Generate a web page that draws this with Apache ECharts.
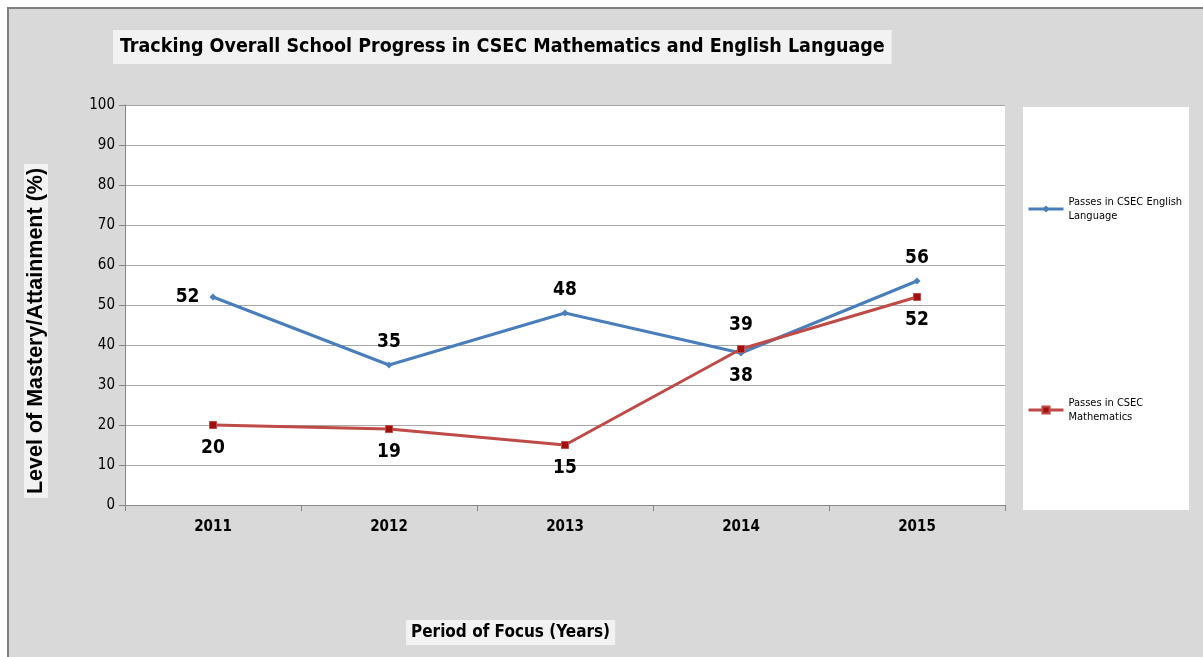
<!DOCTYPE html>
<html><head><meta charset="utf-8">
<script src="https://cdn.jsdelivr.net/npm/echarts@6/dist/echarts.min.js"></script>
<style>html,body{margin:0;padding:0;background:#fff}#c{width:1203px;height:657px}</style>
</head><body><div id="c"></div>
<script>
const years = ['2011','2012','2013','2014','2015'];
const english = [52, 35, 48, 38, 56];
const maths = [20, 19, 15, 39, 52];
const englishLabelPos = ['left','top','top','bottom','top'];
const mathsLabelPos = ['bottom','bottom','bottom','top','bottom'];
const yTicks = {min: 0, max: 100, interval: 10};
const NARROW = '"Liberation Sans Narrow","Arial Narrow","DejaVu Sans Condensed",sans-serif';
const WIDE = '"Liberation Sans",Arial,sans-serif';

const chart = echarts.init(document.getElementById('c'));
function mk(vals, pos){ return vals.map((v,i)=>({value:v, label:{position:pos[i]}})); }
chart.setOption({
  animation:false,
  backgroundColor:'#fff',
  graphic:[
    {type:'rect', z:-10, shape:{x:8,y:8,width:1200,height:660}, style:{fill:'#d9d9d9', stroke:'#808080', lineWidth:2}},
    {type:'rect', z:-5, shape:{x:1023,y:107,width:166,height:403}, style:{fill:'#fff'}},
    {type:'text', x:36, y:331, rotation:Math.PI/2, z:10,
     style:{text:'Level of Mastery/Attainment (%)', fill:'#000', font:'bold 21.5px ' + WIDE,
            align:'center', verticalAlign:'middle', backgroundColor:'#f2f2f2', padding:[1,4,1,4]}}
  ],
  title:[{
    text:'Tracking Overall School Progress in CSEC Mathematics and English Language',
    left:113, top:30, backgroundColor:'#f2f2f2', padding:[7,7,7,7],
    textStyle:{fontFamily:NARROW, fontSize:19.5, fontWeight:'bold', color:'#000'}
  },{
    text:'Period of Focus (Years)',
    left:406, top:620, backgroundColor:'#f2f2f2', padding:[4,5,4,5],
    textStyle:{fontFamily:NARROW, fontSize:17, fontWeight:'bold', color:'#000'}
  }],
  grid:{left:125, top:105, width:880, height:400, show:true, backgroundColor:'#fff', borderWidth:0, outerBoundsMode:'none', containLabel:false},
  legend:[
    {data:['Passes in CSEC English Language'], orient:'vertical', left:1027, top:195, padding:0, itemWidth:35, itemHeight:9, itemGap:5,
     lineStyle:{width:3},
     formatter:()=> 'Passes in CSEC English\nLanguage',
     textStyle:{fontFamily:NARROW, fontSize:11, lineHeight:14, color:'#000'}},
    {data:['Passes in CSEC Mathematics'], orient:'vertical', left:1027, top:396, padding:0, itemWidth:35, itemHeight:9, itemGap:5,
     lineStyle:{width:3},
     formatter:()=> 'Passes in CSEC\nMathematics',
     textStyle:{fontFamily:NARROW, fontSize:11, lineHeight:14, color:'#000'}}
  ],
  xAxis:{
    type:'category', data:years, boundaryGap:true,
    axisLine:{lineStyle:{color:'#868686', width:1}},
    axisTick:{show:true, length:6, lineStyle:{color:'#868686'}},
    axisLabel:{fontFamily:NARROW, fontSize:15, fontWeight:'bold', color:'#000', margin:15}
  },
  yAxis:{
    type:'value', min:yTicks.min, max:yTicks.max, interval:yTicks.interval,
    axisLine:{show:true, lineStyle:{color:'#868686', width:1}},
    axisTick:{show:true, length:6, lineStyle:{color:'#868686'}},
    axisLabel:{fontFamily:NARROW, fontSize:15, color:'#000', margin:10},
    splitLine:{lineStyle:{color:'#a6a6a6', width:1}}
  },
  series:[
    {name:'Passes in CSEC English Language', type:'line', data:mk(english, englishLabelPos),
     symbol:'diamond', symbolSize:7, showAllSymbol:true,
     lineStyle:{color:'#4a7ebb', width:3}, itemStyle:{color:'#4a7ebb'},
     label:{show:true, fontFamily:NARROW, fontSize:19, fontWeight:'bold', color:'#000', distance:10}},
    {name:'Passes in CSEC Mathematics', type:'line', data:mk(maths, mathsLabelPos),
     symbol:'rect', symbolSize:7,
     lineStyle:{color:'#be4b48', width:3}, itemStyle:{color:'#a0100c', borderColor:'#be4b48', borderWidth:1},
     label:{show:true, fontFamily:NARROW, fontSize:19, fontWeight:'bold', color:'#000', distance:10}}
  ]
});
</script></body></html>
